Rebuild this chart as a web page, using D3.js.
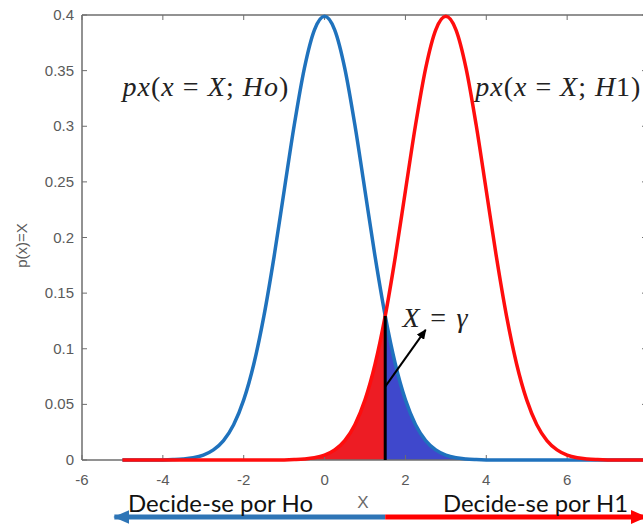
<!DOCTYPE html>
<html>
<head>
<meta charset="utf-8">
<script src="https://cdn.jsdelivr.net/npm/d3@7"></script>
<style>
  body { margin: 0; background: #fff; }
  svg { display: block; }
</style>
</head>
<body>
<div id="wrapper"></div>
<script>
// grid of x values read along the axis (step 0.25)
const xGrid = [-5, -4.75, -4.5, -4.25, -4, -3.75, -3.5, -3.25, -3, -2.75, -2.5, -2.25,
  -2, -1.75, -1.5, -1.25, -1, -0.75, -0.5, -0.25, 0, 0.25, 0.5, 0.75, 1, 1.25, 1.5,
  1.75, 2, 2.25, 2.5, 2.75, 3, 3.25, 3.5, 3.75, 4, 4.25, 4.5, 4.75, 5, 5.25, 5.5, 5.75,
  6, 6.25, 6.5, 6.75, 7, 7.25, 7.5, 7.75, 8]

// px(x = X; Ho), blue curve
const pdfHo = [0, 0, 0, 0, 0.0001, 0.0004, 0.0009, 0.0020, 0.0044, 0.0091, 0.0175, 0.0317,
  0.0540, 0.0863, 0.1295, 0.1826, 0.2420, 0.3011, 0.3521, 0.3867, 0.3989, 0.3867, 0.3521,
  0.3011, 0.2420, 0.1826, 0.1295, 0.0863, 0.0540, 0.0317, 0.0175, 0.0091, 0.0044, 0.0020,
  0.0009, 0.0004, 0.0001, 0, 0, 0, 0, 0, 0, 0, 0, 0, 0, 0, 0, 0, 0, 0, 0]

// px(x = X; H1), red curve
const pdfH1 = [0, 0, 0, 0, 0, 0, 0, 0, 0, 0, 0, 0, 0, 0, 0, 0, 0.0001, 0.0004, 0.0009,
  0.0020, 0.0044, 0.0091, 0.0175, 0.0317, 0.0540, 0.0863, 0.1295, 0.1826, 0.2420, 0.3011,
  0.3521, 0.3867, 0.3989, 0.3867, 0.3521, 0.3011, 0.2420, 0.1826, 0.1295, 0.0863, 0.0540,
  0.0317, 0.0175, 0.0091, 0.0044, 0.0020, 0.0009, 0.0004, 0.0001, 0, 0, 0, 0]

const xTicks = [-6, -4, -2, 0, 2, 4, 6, 8]
const yTicks = [0, 0.05, 0.1, 0.15, 0.2, 0.25, 0.3, 0.35, 0.4]
const gamma = 1.5

function drawChart() {
    const dimensions = {
        width: 643,
        height: 524,
        left: 82,
        right: 648,
        top: 15,
        bottom: 460,
    }

    const svg = d3.select("#wrapper")
        .append("svg")
        .attr("width", dimensions.width)
        .attr("height", dimensions.height)

    const x = d3.scaleLinear().domain([-6, 8]).range([dimensions.left, dimensions.right])
    const y = d3.scaleLinear().domain([0, 0.4]).range([dimensions.bottom, dimensions.top])

    const defs = svg.append("defs")
    const addHead = (id, color, len, half) => {
        defs.append("marker")
            .attr("id", id)
            .attr("markerUnits", "userSpaceOnUse")
            .attr("markerWidth", len).attr("markerHeight", half * 2)
            .attr("refX", len - 1).attr("refY", half)
            .attr("orient", "auto")
            .append("path")
            .attr("d", `M0,0 L${len},${half} L0,${half * 2} Z`)
            .attr("fill", color)
    }
    addHead("headBlue", "#2e75b6", 16, 7)
    addHead("headRed", "#ff0000", 16, 7)
    addHead("headBlack", "#000", 10, 4.5)

    const pts = (vals) => xGrid.map((v, i) => ({ x: v, y: vals[i] }))
    const area = d3.area().x(d => x(d.x)).y0(y(0)).y1(d => y(d.y)).curve(d3.curveMonotoneX)
    const line = d3.line().x(d => x(d.x)).y(d => y(d.y)).curve(d3.curveMonotoneX)

    // shaded regions either side of gamma
    svg.append("path")
        .datum(pts(pdfH1).filter(d => d.x <= gamma))
        .attr("d", area)
        .attr("fill", "#ed1c24")
    svg.append("path")
        .datum(pts(pdfHo).filter(d => d.x >= gamma))
        .attr("d", area)
        .attr("fill", "#3f48cc")

    // box axes, MATLAB style (ticks inward)
    const axisColor = "#6e6e6e"
    const box = svg.append("g").attr("stroke", axisColor).attr("stroke-width", 1.5)
    box.append("line").attr("x1", x(-6)).attr("x2", x(8)).attr("y1", y(0)).attr("y2", y(0))
    box.append("line").attr("x1", x(-6)).attr("x2", x(8)).attr("y1", y(0.4)).attr("y2", y(0.4))
    box.append("line").attr("x1", x(-6)).attr("x2", x(-6)).attr("y1", y(0)).attr("y2", y(0.4))
    box.append("line").attr("x1", x(8)).attr("x2", x(8)).attr("y1", y(0)).attr("y2", y(0.4))

    const tick = svg.append("g").attr("stroke", axisColor).attr("stroke-width", 1)
    xTicks.forEach(t => {
        tick.append("line").attr("x1", x(t)).attr("x2", x(t)).attr("y1", y(0)).attr("y2", y(0) - 5)
        tick.append("line").attr("x1", x(t)).attr("x2", x(t)).attr("y1", y(0.4)).attr("y2", y(0.4) + 5)
    })
    yTicks.forEach(t => {
        tick.append("line").attr("x1", x(-6)).attr("x2", x(-6) + 5).attr("y1", y(t)).attr("y2", y(t))
        tick.append("line").attr("x1", x(8)).attr("x2", x(8) - 6).attr("y1", y(t)).attr("y2", y(t))
    })

    const labelFont = "'Liberation Sans', Arial, sans-serif"
    svg.append("g").selectAll("text").data(xTicks).join("text")
        .attr("x", d => x(d)).attr("y", dimensions.bottom + 25)
        .attr("text-anchor", "middle")
        .attr("font-family", labelFont).attr("font-size", 15).attr("fill", "#5a5a5a")
        .text(d => d)
    svg.append("g").selectAll("text").data(yTicks).join("text")
        .attr("x", dimensions.left - 8).attr("y", d => y(d) + 5)
        .attr("text-anchor", "end")
        .attr("font-family", labelFont).attr("font-size", 15).attr("fill", "#5a5a5a")
        .text(d => d)

    svg.append("text")
        .attr("transform", `translate(27,${(dimensions.top + dimensions.bottom) / 2 + 8}) rotate(-90)`)
        .attr("text-anchor", "middle")
        .attr("font-family", labelFont).attr("font-size", 15).attr("fill", "#5a5a5a")
        .text("p(x)=X")
    svg.append("text")
        .attr("x", 363).attr("y", 508)
        .attr("text-anchor", "middle")
        .attr("font-family", labelFont).attr("font-size", 17).attr("fill", "#6a6a6a")
        .text("X")

    // curves
    svg.append("path").datum(pts(pdfHo)).attr("d", line)
        .attr("fill", "none").attr("stroke", "#1f72bd").attr("stroke-width", 3.5)
    svg.append("path").datum(pts(pdfH1)).attr("d", line)
        .attr("fill", "none").attr("stroke", "#ff0d0d").attr("stroke-width", 3.5)

    // threshold line
    svg.append("line")
        .attr("x1", x(gamma)).attr("x2", x(gamma))
        .attr("y1", y(0)).attr("y2", y(pdfHo[xGrid.indexOf(gamma)]))
        .attr("stroke", "#000").attr("stroke-width", 3)
    svg.append("line")
        .attr("x1", x(gamma)).attr("y1", y(0.066))
        .attr("x2", x(2.5)).attr("y2", y(0.117))
        .attr("stroke", "#000").attr("stroke-width", 2)
        .attr("marker-end", "url(#headBlack)")

    // math-style labels
    const mathFont = "'Liberation Serif', 'DejaVu Serif', serif"
    const mathLabel = (x0, y0, parts, size, len) => {
        const t = svg.append("text").attr("x", x0).attr("y", y0)
            .attr("font-family", mathFont).attr("font-size", size).attr("fill", "#222")
            .attr("textLength", len).attr("lengthAdjust", "spacing")
        parts.forEach(([s, it]) => t.append("tspan")
            .attr("font-style", it ? "italic" : "normal").text(s))
        return t
    }
    mathLabel(x(-5), y(0.327), [["px", 1], ["(", 0], ["x", 1], [" = ", 0], ["X", 1], ["; ", 0], ["Ho", 1], [")", 0]], 28, 166)
    mathLabel(x(3.73), y(0.327), [["px", 1], ["(", 0], ["x", 1], [" = ", 0], ["X", 1], ["; ", 0], ["H", 1], ["1)", 0]], 28, 165)
    mathLabel(x(1.93), y(0.12), [["X", 1], [" = ", 0], ["\u03b3", 1]], 28, 65)

    // decision arrows under the axis
    svg.append("line")
        .attr("x1", x(gamma)).attr("x2", x(-5.2)).attr("y1", 517).attr("y2", 517)
        .attr("stroke", "#2e75b6").attr("stroke-width", 5)
        .attr("marker-end", "url(#headBlue)")
    svg.append("line")
        .attr("x1", x(gamma)).attr("x2", x(7.95)).attr("y1", 517).attr("y2", 517)
        .attr("stroke", "#ff0000").attr("stroke-width", 5)
        .attr("marker-end", "url(#headRed)")

    const decideFont = "Lato, 'Open Sans', sans-serif"
    svg.append("text").attr("x", 128).attr("y", 512)
        .attr("font-family", decideFont).attr("font-size", 23).attr("fill", "#111")
        .attr("textLength", 185).attr("lengthAdjust", "spacingAndGlyphs")
        .text("Decide-se por Ho")
    svg.append("text").attr("x", 443).attr("y", 512)
        .attr("font-family", decideFont).attr("font-size", 23).attr("fill", "#111")
        .attr("textLength", 185).attr("lengthAdjust", "spacingAndGlyphs")
        .text("Decide-se por H1")
}

drawChart()
</script>
</body>
</html>
